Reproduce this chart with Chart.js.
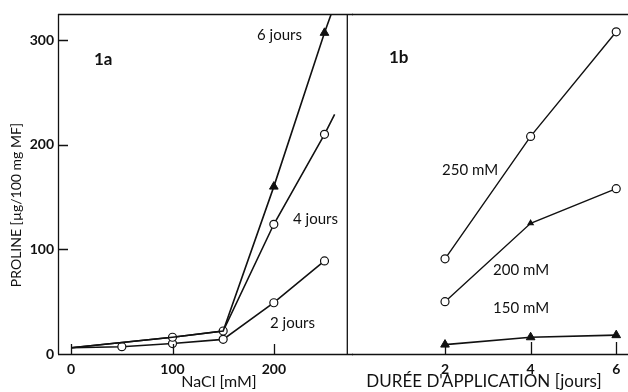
<!DOCTYPE html>
<html>
<head>
<meta charset="utf-8">
<script src="https://cdn.jsdelivr.net/npm/chart.js@4/dist/chart.umd.min.js"></script>
<style>
  html, body { margin: 0; padding: 0; background: #fff; }
  #wrap { position: relative; width: 628px; height: 392px; overflow: hidden; background: #fff; }
  #c1 { position: absolute; left: 0; top: 0; }
  #c2 { position: absolute; left: 352px; top: 0; }
</style>
</head>
<body>
<div id="wrap">
  <canvas id="c1" width="353" height="392"></canvas>
  <canvas id="c2" width="276" height="392"></canvas>
</div>
<script>
// ---- Data ----
// Panel 1a: proline vs NaCl concentration
const naclTicks = [0, 100, 200];
const nacl2j = [0, 50, 100, 150, 200, 250];
const proline2j = [6, 7, 10, 14, 49, 89];
const nacl4j = [0, 100, 150, 200, 250, 260];
const proline4j = [6, 16, 22, 124, 210, 229];
const nacl6j = [0, 100, 150, 200, 250, 257];
const proline6j = [6, 16, 22, 160, 307, 326];
const prolineTicks = [0, 100, 200, 300];

// Panel 1b: proline vs duration
const jours = [2, 4, 6];
const proline250 = [91, 208, 308];
const proline200 = [50, 125, 158];
const proline150 = [9, 16, 18];

const INK = '#111';
const FONT = 'Lato, "Open Sans", sans-serif';

function pts(xs, ys) { return xs.map((x, i) => ({ x: x, y: ys[i] })); }

// plugin: frame (top line, divider) + inward ticks + annotations + axis titles
function framePlugin(opts) {
  return {
    id: 'frame',
    afterDraw(chart) {
      const ctx = chart.ctx;
      const a = chart.chartArea;
      const xs = chart.scales.x, ys = chart.scales.y;
      const x0 = opts.frameLeft ? a.left : 0;
      ctx.save();
      ctx.strokeStyle = INK;
      ctx.lineWidth = 1.3;
      ctx.beginPath();
      ctx.moveTo(x0, a.top + 0.5);
      ctx.lineTo(chart.width, a.top + 0.5);
      if (opts.frameLeft) {
        ctx.moveTo(a.left + 0.5, a.top);
        ctx.lineTo(a.left + 0.5, a.bottom);
      }
      if (opts.frameRight) {
        ctx.moveTo(a.right - 0.5, a.top);
        ctx.lineTo(a.right - 0.5, a.bottom);
      }
      ctx.moveTo(x0, a.bottom + 0.5);
      ctx.lineTo(chart.width, a.bottom + 0.5);
      ctx.stroke();
      // inward x ticks
      ctx.lineWidth = 1.3;
      ctx.beginPath();
      opts.xTicks.forEach(v => {
        const px = Math.round(xs.getPixelForValue(v)) + 0.5;
        ctx.moveTo(px, a.bottom);
        ctx.lineTo(px, a.bottom - opts.xTickLen);
      });
      if (opts.yTicks) {
        opts.yTicks.forEach(v => {
          if (v === 0) return;
          const py = Math.round(ys.getPixelForValue(v)) + 0.5;
          ctx.moveTo(a.left, py);
          ctx.lineTo(a.left + 10, py);
        });
      }
      ctx.stroke();
      // annotations
      ctx.fillStyle = INK;
      ctx.textBaseline = 'middle';
      ctx.textAlign = 'left';
      opts.labels.forEach(l => {
        ctx.font = l.font;
        ctx.fillText(l.text, l.x, l.y);
      });
      // axis titles
      ctx.textAlign = 'center';
      if (opts.xTitle) {
        ctx.font = opts.xTitle.font;
        ctx.fillText(opts.xTitle.text, opts.xTitle.x, opts.xTitle.y);
      }
      if (opts.yTitle) {
        ctx.font = opts.yTitle.font;
        ctx.translate(opts.yTitle.x, opts.yTitle.y);
        ctx.rotate(-Math.PI / 2);
        ctx.fillText(opts.yTitle.text, 0, 0);
      }
      ctx.restore();
    }
  };
}

const circ = { pointStyle: 'circle', pointBackgroundColor: '#fff', pointBorderColor: INK, pointBorderWidth: 1.2 };
const tri = { pointStyle: 'triangle', pointBackgroundColor: INK, pointBorderColor: INK, pointBorderWidth: 1 };
const tickFont = { family: FONT, size: 14, weight: 'bold' };

// ---- Chart 1a ----
new Chart(document.getElementById('c1'), {
  type: 'scatter',
  data: {
    datasets: [
      Object.assign({ data: pts(nacl6j, proline6j), showLine: true, borderColor: INK, borderWidth: 1.6,
        pointRadius: [0, 0, 0, 5, 5, 0] }, tri),
      Object.assign({ data: pts(nacl4j, proline4j), showLine: true, borderColor: INK, borderWidth: 1.6,
        pointRadius: [0, 4, 4, 4, 4, 0] }, circ),
      Object.assign({ data: pts(nacl2j, proline2j), showLine: true, borderColor: INK, borderWidth: 1.6,
        pointRadius: [0, 4, 4, 4, 4, 4] }, circ)
    ]
  },
  options: {
    responsive: false, animation: false,
    layout: { padding: { top: 14, right: 1, left: 0, bottom: 0 } },
    plugins: { legend: { display: false }, tooltip: { enabled: false } },
    scales: {
      x: {
        type: 'linear', min: -13, max: 273,
        afterFit(s) { s.height = 38; },
        afterBuildTicks(s) { s.ticks = naclTicks.map(v => ({ value: v })); },
        grid: { display: false, drawTicks: false },
        border: { display: false },
        ticks: { color: INK, font: tickFont, padding: 7, maxRotation: 0 },
        title: { display: false }
      },
      y: {
        type: 'linear', min: 0, max: 325,
        afterFit(s) { s.width = 58; },
        afterBuildTicks(s) { s.ticks = prolineTicks.map(v => ({ value: v })); },
        grid: { display: false, drawTicks: false },
        border: { display: false },
        ticks: { color: INK, font: tickFont, padding: 4 },
        title: { display: false }
      }
    }
  },
  plugins: [framePlugin({
    frameLeft: true, frameRight: true, xTicks: naclTicks, xTickLen: 10, yTicks: prolineTicks,
    labels: [
      { text: '1a', x: 94, y: 60, font: 'bold 17px ' + FONT },
      { text: '6 jours', x: 257, y: 35, font: '15px ' + FONT },
      { text: '4 jours', x: 293, y: 219, font: '15px ' + FONT },
      { text: '2 jours', x: 270, y: 323, font: '15px ' + FONT }
    ],
    xTitle: { text: 'NaCl [mM]', x: 219, y: 382, font: '16px ' + FONT },
    yTitle: { text: 'PROLINE [µg/100 mg MF]', x: 16, y: 205, font: '14px ' + FONT }
  })]
});

// ---- Chart 1b ----
new Chart(document.getElementById('c2'), {
  type: 'scatter',
  data: {
    datasets: [
      Object.assign({ data: pts(jours, proline250), showLine: true, borderColor: INK, borderWidth: 1.4, pointRadius: 4 }, circ),
      Object.assign({ data: pts(jours, proline200), showLine: true, borderColor: INK, borderWidth: 1.4,
        pointRadius: [4, 3, 4], pointStyle: ['circle', 'triangle', 'circle'],
        pointBackgroundColor: ['#fff', INK, '#fff'], pointBorderColor: INK, pointBorderWidth: 1.2 }),
      Object.assign({ data: pts(jours, proline150), showLine: true, borderColor: INK, borderWidth: 1.6, pointRadius: 5 }, tri)
    ]
  },
  options: {
    responsive: false, animation: false, clip: false,
    layout: { padding: { top: 14, right: 0, left: 0, bottom: 0 } },
    plugins: { legend: { display: false }, tooltip: { enabled: false } },
    scales: {
      x: {
        type: 'linear', min: -0.033, max: 6.135,
        afterFit(s) { s.height = 38; },
        afterBuildTicks(s) { s.ticks = jours.map(v => ({ value: v })); },
        grid: { display: false, drawTicks: false },
        border: { display: false },
        ticks: { color: INK, font: tickFont, padding: 7, maxRotation: 0 },
        title: { display: false }
      },
      y: { type: 'linear', min: 0, max: 325, display: false }
    }
  },
  plugins: [framePlugin({
    frameLeft: false, frameRight: false, xTicks: jours, xTickLen: 12, yTicks: null,
    labels: [
      { text: '1b', x: 37, y: 58, font: 'bold 17px ' + FONT },
      { text: '250 mM', x: 90, y: 170, font: '15px ' + FONT },
      { text: '200 mM', x: 141, y: 270, font: '15px ' + FONT },
      { text: '150 mM', x: 141, y: 308, font: '15px ' + FONT }
    ],
    xTitle: { text: "DURÉE D'APPLICATION [jours]", x: 132, y: 382, font: '17px ' + FONT }
  })]
});
</script>
</body>
</html>
